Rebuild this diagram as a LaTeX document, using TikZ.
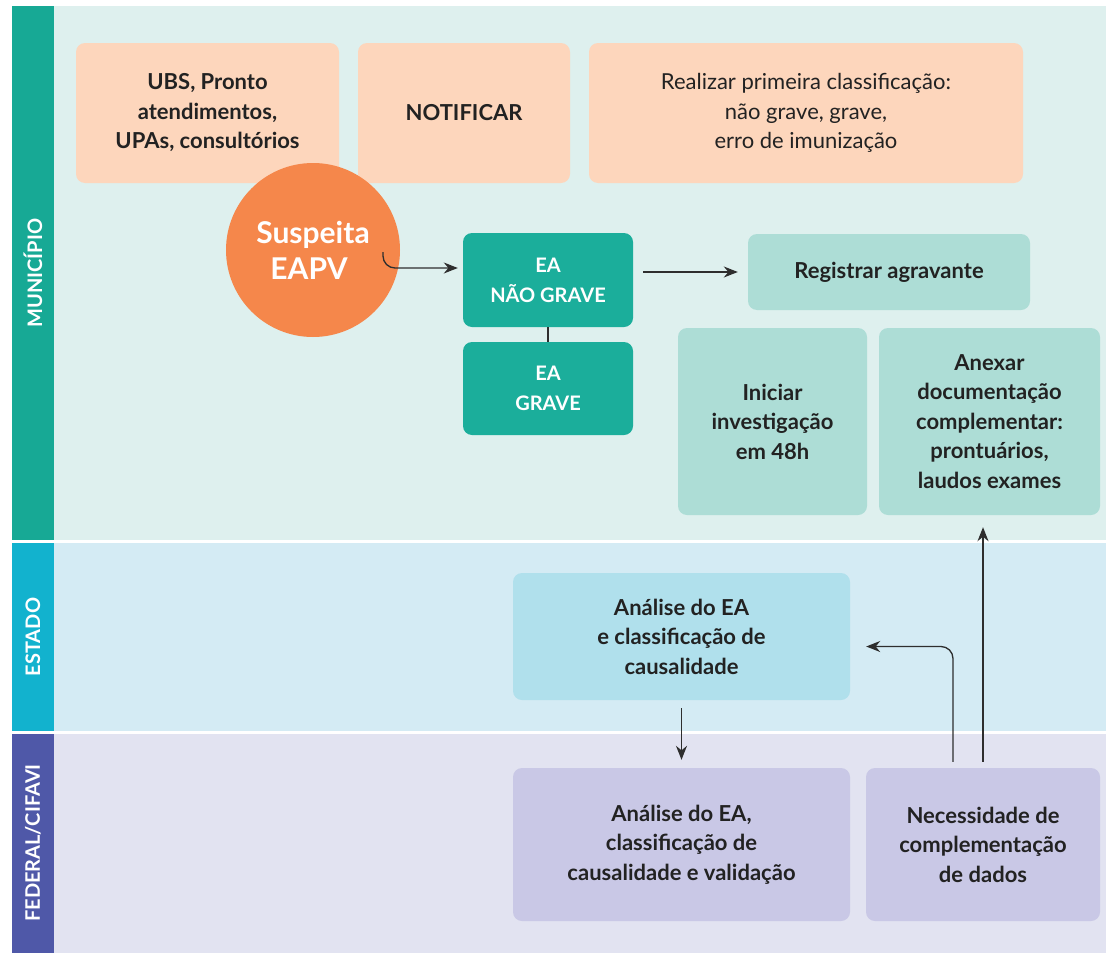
\documentclass[tikz,border=0pt]{standalone}
\usepackage{fontspec}
\setmainfont{Lato}
\usetikzlibrary{arrows.meta}
\definecolor{muniStrip}{HTML}{17A995}
\definecolor{muniBg}{HTML}{DEF0EE}
\definecolor{estStrip}{HTML}{12B2CE}
\definecolor{estBg}{HTML}{D4EBF4}
\definecolor{fedStrip}{HTML}{4F58A8}
\definecolor{fedBg}{HTML}{E2E3F1}
\definecolor{peach}{HTML}{FDD6BC}
\definecolor{suspOrange}{HTML}{F5874B}
\definecolor{eaTeal}{HTML}{1BAE9B}
\definecolor{lightTeal}{HTML}{ADDDD6}
\definecolor{lightCyan}{HTML}{B0E0EC}
\definecolor{lavender}{HTML}{C9C8E6}
\definecolor{textDark}{HTML}{222222}
\definecolor{arrowGray}{HTML}{2E2E2E}
\begin{document}
\begin{tikzpicture}[x=1pt,y=-1pt]
        \tikzstyle{box}=[rounded corners=9pt, align=center, text=textDark, inner sep=0pt, font=\fontsize{22}{29.5}\selectfont\bfseries]
        \tikzstyle{lanelabel}=[rotate=90, text=white, font=\fontsize{20}{22}\selectfont\bfseries]
        \tikzstyle{arr}=[-{Stealth[length=14pt,width=11pt]}, line width=1.3pt, draw=arrowGray]
        \useasboundingbox (0,0) rectangle (1106,953);
        % lanes
        \fill[muniBg] (54,6) rectangle (1106,540);
        \fill[estBg] (54,543) rectangle (1106,731);
        \fill[fedBg] (54,734) rectangle (1106,953);
        \fill[muniStrip] (12,6) rectangle (54,540);
        \fill[estStrip] (12,543) rectangle (54,731);
        \fill[fedStrip] (12,734) rectangle (54,953);
        \node[lanelabel] (lmuni) at (33,273) {MUNICÍPIO};
        \node[lanelabel] (lest) at (33,637) {ESTADO};
        \node[lanelabel] (lfed) at (33,843) {FEDERAL/CIFAVI};
        % municipio
        \node[box, fill=peach, minimum width=263pt, minimum height=140pt] (ubs) at (207.5,113) {UBS, Pronto\\atendimentos,\\UPAs, consultórios};
        \node[box, fill=peach, minimum width=212pt, minimum height=140pt] (notif) at (464,113) {NOTIFICAR};
        \node[box, fill=peach, minimum width=434pt, minimum height=140pt, font=\fontsize{22}{29.5}\selectfont] (classif) at (806,113) {Realizar primeira classificação:\\não grave, grave,\\erro de imunização};
        \node[circle, fill=suspOrange, minimum size=174pt, inner sep=0pt, align=center, text=white, font=\fontsize{30}{36}\selectfont\bfseries] (susp) at (313,250) {Suspeita\\EAPV\kern 8pt};
        \node[box, fill=eaTeal, text=white, minimum width=170pt, minimum height=94pt, font=\fontsize{20}{30}\selectfont\bfseries] (ngrave) at (548,280) {EA\\NÃO GRAVE};
        \node[box, fill=eaTeal, text=white, minimum width=170pt, minimum height=93pt, font=\fontsize{20}{30}\selectfont\bfseries] (grave) at (548,388.5) {EA\\GRAVE};
        \node[box, fill=lightTeal, minimum width=282pt, minimum height=76pt] (agrav) at (889,272) {Registrar agravante};
        \node[box, fill=lightTeal, minimum width=189pt, minimum height=187pt] (invest) at (772.5,421.5) {Iniciar\\investigação\\em 48h};
        \node[box, fill=lightTeal, minimum width=221pt, minimum height=187pt] (anexar) at (989.5,421.5) {Anexar\\documentação\\complementar:\\prontuários,\\laudos exames};
        % estado e federal
        \node[box, fill=lightCyan, minimum width=337pt, minimum height=127pt] (analest) at (681.5,636.5) {Análise do EA\\e classificação de\\causalidade};
        \node[box, fill=lavender, minimum width=337pt, minimum height=153pt] (analfed) at (681.5,844.5) {Análise do EA,\\classificação de\\causalidade e validação};
        \node[box, fill=lavender, minimum width=234pt, minimum height=153pt] (neces) at (983,844.5) {Necessidade de\\complementação\\de dados};
        % connectors
        \coordinate (suspout) at (383,252);
        \draw[arr, rounded corners=12pt, shorten >=5pt] (suspout) |- ([yshift=12pt]ngrave.west);
        \draw[arr, shorten <=10pt, shorten >=10pt] (ngrave.east |- agrav.west) -- (agrav.west);
        \draw[line width=1.3pt, draw=arrowGray] (ngrave.south) -- (grave.north);
        \draw[arr, shorten <=8pt, shorten >=8pt] (analest.south) -- (analfed.north);
        \draw[arr, rounded corners=12pt, shorten <=6pt, shorten >=16pt] ([xshift=-30pt]neces.north) |- ([yshift=-10pt]analest.east);
        \draw[arr, shorten <=6pt, shorten >=12pt] (neces.north) -- (neces.north |- anexar.south);
\end{tikzpicture}
\end{document}
